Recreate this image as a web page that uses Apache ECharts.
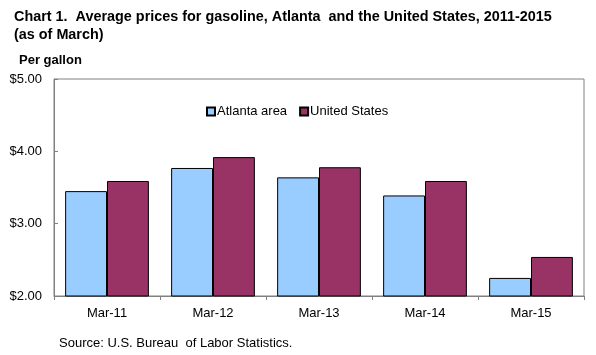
<!DOCTYPE html>
<html><head><meta charset="utf-8">
<script src="https://cdn.jsdelivr.net/npm/echarts@6/dist/echarts.min.js"></script>
<style>html,body{margin:0;padding:0;background:#fff}#c{width:596px;height:355px}</style>
</head><body><div id="c"></div>
<script>
const categories = ['Mar-11', 'Mar-12', 'Mar-13', 'Mar-14', 'Mar-15'];
const atlanta = [3.45, 3.77, 3.64, 3.39, 2.25];
const unitedStates = [3.59, 3.92, 3.78, 3.59, 2.54];
const yTicks = [2, 3, 4, 5];
const F = '"Liberation Sans", Arial, sans-serif';
const chart = echarts.init(document.getElementById('c'), null, {renderer: 'canvas'});
chart.setOption({
  animation: false,
  textStyle: {fontFamily: F},
  title: [
    {text: 'Chart 1.  Average prices for gasoline, Atlanta  and the United States, 2011-2015\n(as of March)',
     left: 9, top: 3, textStyle: {fontFamily: F, fontSize: 14.4, fontWeight: 'bold', color: '#000', lineHeight: 18}},
    {text: 'Per gallon', left: 14, top: 49, textStyle: {fontFamily: F, fontSize: 13, fontWeight: 'bold', color: '#000'}},
    {text: 'Source: U.S. Bureau  of Labor Statistics.', left: 54, top: 332, textStyle: {fontFamily: F, fontSize: 13, fontWeight: 'normal', color: '#000'}}
  ],
  legend: {
    left: 201, top: 100, itemWidth: 8, itemHeight: 8, itemGap: 12,
    icon: 'rect',
    textStyle: {fontFamily: F, fontSize: 13, color: '#000', padding: [0, 0, 0, -3]},
    data: ['Atlanta area', 'United States']
  },
  grid: {left: 54, right: 12, top: 79, bottom: 59, show: true, borderColor: '#808080', borderWidth: 1, containLabel: false},
  xAxis: {
    type: 'category', data: categories,
    axisLine: {lineStyle: {color: '#808080'}},
    axisTick: {show: true, length: 4, lineStyle: {color: '#808080'}},
    axisLabel: {color: '#000', fontSize: 13, margin: 11, fontFamily: F}
  },
  yAxis: {
    type: 'value', min: 2, max: 5, interval: 1,
    axisLine: {show: true, lineStyle: {color: '#808080'}},
    axisTick: {show: true, inside: true, length: 4, lineStyle: {color: '#808080'}},
    splitLine: {show: false},
    axisLabel: {color: '#000', fontSize: 13, margin: 12, fontFamily: F,
      formatter: v => yTicks.includes(v) ? '$' + v.toFixed(2) : ''}
  },
  series: [
    {name: 'Atlanta area', type: 'bar', data: atlanta, barGap: '0%', barCategoryGap: '21%',
     itemStyle: {color: '#99CCFF', borderColor: '#000', borderWidth: 1}},
    {name: 'United States', type: 'bar', data: unitedStates, barGap: '0%', barCategoryGap: '21%',
     itemStyle: {color: '#993366', borderColor: '#000', borderWidth: 1}}
  ]
});
</script></body></html>
